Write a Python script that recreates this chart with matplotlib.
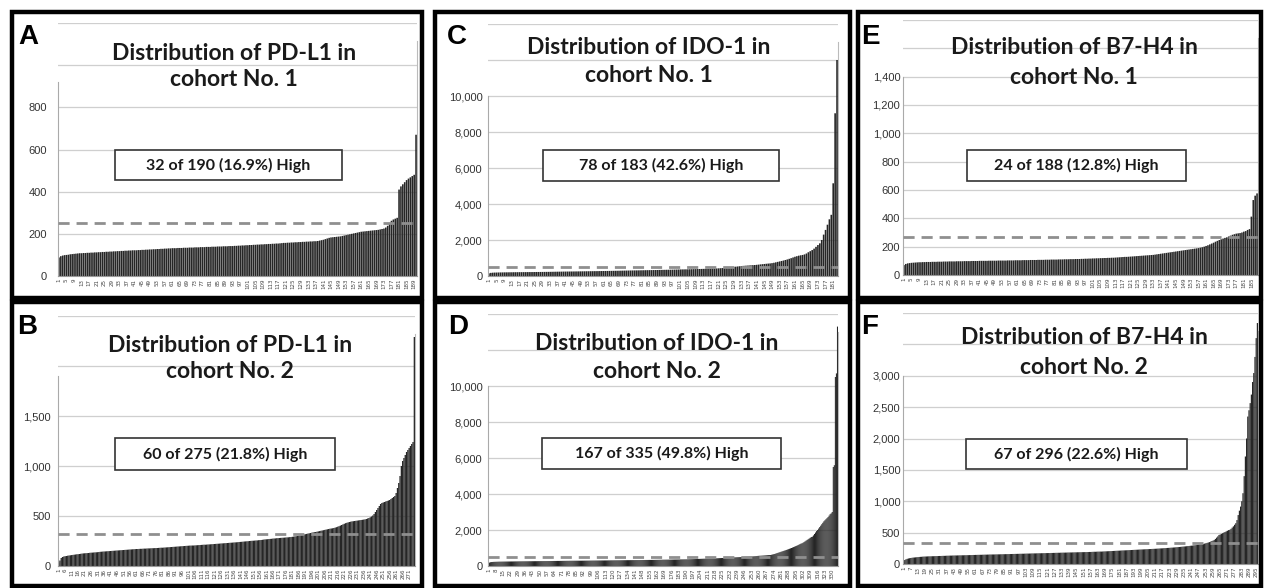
import matplotlib.pyplot as plt
import numpy as np
from matplotlib.patches import Rectangle
from matplotlib.ticker import FuncFormatter

W, H = 1265, 588

# sorted per-patient scores
pdl1_c1 = [88, 94, 97, 99, 100, 101, 103, 104, 105, 106,
           107, 108, 108, 109, 109, 110, 110, 111, 111, 112,
           112, 113, 113, 114, 114, 115, 115, 116, 116, 117,
           117, 118, 118, 119, 119, 120, 120, 121, 121, 122,
           122, 122, 123, 123, 124, 124, 125, 125, 126, 126,
           127, 127, 128, 128, 129, 129, 130, 130, 131, 131,
           132, 132, 132, 133, 133, 133, 134, 134, 134, 135,
           135, 135, 136, 136, 136, 137, 137, 137, 138, 138,
           138, 139, 139, 139, 140, 140, 140, 141, 141, 141,
           142, 142, 142, 143, 143, 144, 144, 145, 145, 146,
           146, 147, 147, 148, 148, 149, 149, 150, 150, 151,
           151, 152, 152, 153, 153, 154, 154, 155, 156, 157,
           157, 158, 158, 159, 159, 160, 160, 161, 161, 162,
           162, 163, 163, 164, 164, 165, 165, 166, 168, 170,
           172, 175, 178, 181, 183, 184, 185, 186, 187, 188,
           190, 192, 194, 196, 198, 200, 202, 204, 206, 208,
           210, 211, 212, 213, 214, 215, 216, 217, 218, 219,
           221, 223, 225, 230, 238, 250, 262, 268, 272, 276,
           410, 425, 435, 445, 455, 462, 468, 474, 480, 670]

pdl1_c2 = [35, 55, 80, 90, 95, 98, 100, 103, 105, 107,
           109, 111, 113, 115, 117, 118, 120, 122, 124, 126,
           127, 128, 129, 130, 132, 133, 134, 135, 136, 137,
           138, 140, 142, 143, 144, 145, 146, 147, 148, 149,
           150, 151, 152, 153, 154, 155, 156, 157, 158, 159,
           160, 161, 162, 163, 164, 165, 166, 167, 168, 169,
           170, 170, 171, 172, 172, 173, 174, 174, 175, 176,
           176, 177, 178, 178, 179, 180, 180, 181, 182, 183,
           183, 184, 185, 186, 187, 188, 189, 190, 191, 192,
           193, 194, 195, 196, 197, 198, 199, 200, 201, 202,
           203, 204, 204, 205, 205, 206, 207, 208, 209, 210,
           211, 212, 213, 213, 214, 215, 216, 217, 218, 219,
           220, 221, 222, 223, 224, 225, 226, 227, 228, 229,
           230, 231, 232, 233, 234, 235, 236, 237, 238, 240,
           241, 242, 243, 245, 246, 247, 248, 250, 251, 252,
           253, 254, 255, 256, 258, 259, 260, 262, 264, 266,
           267, 268, 270, 271, 272, 274, 275, 276, 278, 279,
           280, 281, 282, 283, 284, 285, 286, 287, 289, 290,
           292, 294, 296, 298, 300, 303, 306, 309, 312, 315,
           318, 321, 324, 327, 330, 333, 336, 338, 340, 343,
           346, 349, 352, 355, 358, 361, 364, 367, 370, 373,
           375, 377, 380, 384, 388, 393, 398, 404, 410, 416,
           422, 428, 432, 436, 440, 443, 446, 448, 450, 452,
           454, 456, 458, 460, 462, 464, 466, 470, 475, 480,
           487, 495, 505, 520, 540, 560, 580, 600, 620, 630,
           635, 640, 645, 650, 655, 660, 670, 680, 690, 700,
           730, 780, 830, 900, 1000, 1050, 1080, 1110, 1140, 1160,
           1180, 1200, 1220, 1240, 2290]

ido1_c1 = [150, 175, 185, 190, 193, 196, 198, 200, 202, 204,
           205, 207, 208, 210, 211, 212, 213, 214, 215, 216,
           217, 218, 219, 220, 222, 223, 224, 225, 226, 228,
           229, 230, 232, 234, 236, 238, 240, 241, 243, 245,
           246, 248, 249, 251, 252, 254, 255, 257, 258, 260,
           261, 263, 264, 266, 267, 269, 270, 272, 274, 276,
           277, 279, 281, 283, 285, 287, 289, 291, 293, 296,
           298, 300, 302, 304, 306, 308, 310, 312, 314, 316,
           318, 320, 322, 324, 326, 328, 330, 332, 334, 337,
           339, 341, 343, 346, 348, 350, 353, 356, 359, 362,
           364, 366, 368, 370, 372, 375, 378, 381, 384, 387,
           390, 393, 396, 399, 402, 405, 408, 411, 415, 420,
           425, 432, 440, 450, 460, 470, 480, 492, 505, 518,
           530, 542, 553, 563, 572, 580, 588, 595, 603, 611,
           622, 633, 645, 657, 668, 680, 690, 700, 715, 735,
           760, 785, 810, 835, 860, 890, 920, 955, 990, 1030,
           1070, 1100, 1130, 1150, 1170, 1200, 1250, 1320, 1380, 1440,
           1520, 1620, 1720, 1815, 2000, 2300, 2560, 2850, 3150, 3400,
           5150, 9040, 12000]

ido1_c2 = [150, 190, 210, 220, 225, 230, 232, 234, 236, 238,
           240, 241, 242, 243, 244, 245, 246, 247, 248, 249,
           250, 251, 252, 252, 253, 254, 255, 255, 256, 257,
           258, 258, 259, 260, 260, 261, 262, 262, 263, 264,
           264, 265, 266, 266, 267, 268, 268, 269, 270, 270,
           271, 272, 272, 273, 274, 274, 275, 276, 276, 277,
           278, 278, 279, 280, 280, 281, 282, 282, 283, 284,
           284, 285, 286, 286, 287, 288, 288, 289, 290, 290,
           291, 291, 292, 292, 293, 293, 294, 294, 295, 295,
           296, 296, 297, 297, 298, 298, 299, 300, 300, 301,
           302, 302, 303, 304, 304, 305, 306, 306, 307, 308,
           308, 309, 310, 310, 311, 312, 312, 313, 314, 314,
           315, 316, 316, 317, 318, 318, 319, 320, 320, 321,
           322, 322, 323, 324, 324, 325, 326, 326, 327, 328,
           328, 329, 330, 330, 331, 332, 332, 333, 334, 334,
           335, 336, 336, 337, 338, 338, 339, 340, 340, 341,
           342, 343, 344, 345, 346, 347, 348, 349, 350, 351,
           352, 353, 354, 355, 356, 357, 358, 359, 360, 361,
           362, 363, 364, 365, 366, 367, 368, 369, 370, 371,
           372, 374, 376, 378, 380, 382, 384, 386, 388, 390,
           392, 394, 396, 398, 400, 402, 404, 406, 408, 410,
           412, 414, 416, 418, 420, 422, 424, 426, 428, 430,
           433, 436, 439, 442, 445, 448, 451, 454, 457, 460,
           463, 466, 469, 472, 475, 478, 481, 484, 487, 490,
           493, 496, 499, 502, 505, 508, 511, 514, 517, 520,
           524, 528, 532, 536, 540, 545, 550, 556, 562, 568,
           570, 574, 578, 582, 586, 590, 594, 598, 603, 607,
           611, 625, 640, 655, 670, 690, 710, 730, 750, 770,
           790, 810, 830, 850, 870, 890, 912, 934, 956, 978,
           1000, 1025, 1050, 1075, 1100, 1125, 1150, 1180, 1210, 1240,
           1260, 1290, 1330, 1370, 1410, 1450, 1490, 1530, 1570, 1610,
           1630, 1700, 1780, 1860, 1940, 2000, 2080, 2160, 2240, 2320,
           2400, 2480, 2540, 2600, 2660, 2720, 2800, 2880, 2925, 3000,
           5500, 5600, 10500, 10700, 13300]

b7h4_c1 = [70, 78, 82, 84, 86, 87, 88, 89, 90, 90,
           91, 91, 92, 92, 92, 93, 93, 93, 94, 94,
           94, 95, 95, 95, 96, 96, 96, 96, 97, 97,
           97, 97, 98, 98, 98, 98, 99, 99, 99, 99,
           100, 100, 100, 100, 100, 101, 101, 101, 101, 101,
           102, 102, 102, 102, 102, 103, 103, 103, 103, 104,
           104, 104, 104, 105, 105, 105, 105, 106, 106, 106,
           106, 107, 107, 107, 107, 108, 108, 108, 109, 109,
           109, 109, 110, 110, 110, 111, 111, 111, 112, 112,
           112, 113, 113, 113, 114, 114, 115, 115, 116, 116,
           117, 117, 118, 118, 119, 119, 120, 120, 121, 121,
           122, 122, 123, 124, 125, 126, 127, 128, 128, 129,
           130, 131, 132, 133, 134, 135, 136, 137, 138, 139,
           140, 141, 142, 144, 146, 148, 150, 152, 154, 156,
           158, 160, 162, 164, 166, 168, 170, 172, 174, 176,
           178, 180, 182, 184, 186, 188, 190, 193, 196, 200,
           205, 210, 216, 222, 228, 235, 241, 247, 252, 257,
           262, 266, 272, 278, 284, 288, 292, 294, 296, 300,
           306, 310, 318, 324, 412, 529, 560, 576]

b7h4_c2 = [40, 64, 75, 82, 88, 92, 96, 99, 102, 104,
           106, 108, 110, 112, 114, 115, 117, 118, 119, 120,
           121, 122, 122, 123, 124, 124, 125, 126, 126, 127,
           128, 128, 129, 130, 130, 131, 132, 132, 133, 134,
           134, 135, 135, 136, 136, 137, 137, 138, 138, 139,
           139, 140, 140, 141, 141, 142, 142, 143, 144, 144,
           145, 145, 146, 146, 147, 147, 148, 148, 149, 149,
           150, 150, 151, 151, 152, 152, 152, 153, 153, 154,
           154, 155, 155, 156, 156, 157, 157, 158, 158, 159,
           159, 160, 160, 161, 161, 162, 162, 163, 163, 164,
           164, 165, 165, 166, 166, 167, 167, 168, 168, 169,
           169, 170, 170, 171, 171, 172, 172, 173, 173, 174,
           174, 175, 175, 176, 176, 177, 177, 178, 178, 179,
           179, 180, 180, 181, 181, 182, 182, 183, 183, 184,
           184, 185, 185, 186, 186, 187, 187, 188, 188, 189,
           189, 190, 190, 191, 191, 192, 192, 193, 194, 195,
           195, 196, 197, 197, 198, 198, 199, 200, 201, 202,
           203, 204, 205, 206, 207, 208, 209, 210, 211, 212,
           213, 214, 215, 216, 217, 218, 219, 220, 221, 222,
           223, 224, 225, 226, 227, 228, 229, 230, 231, 232,
           233, 234, 235, 236, 237, 238, 239, 240, 241, 242,
           243, 244, 245, 246, 248, 249, 250, 252, 253, 254,
           256, 257, 258, 260, 261, 263, 264, 266, 268, 270,
           271, 273, 275, 277, 279, 281, 283, 285, 287, 290,
           292, 294, 297, 299, 302, 305, 308, 311, 314, 317,
           320, 325, 330, 336, 342, 349, 356, 364, 372, 383,
           400, 420, 440, 463, 470, 480, 490, 500, 510, 520,
           530, 540, 545, 560, 580, 600, 625, 650, 700, 780,
           850, 915, 1000, 1128, 1400, 1713, 2000, 2350, 2450, 2564,
           2700, 2900, 3043, 3300, 3600, 3840]

series = [pdl1_c1, pdl1_c2, ido1_c1, ido1_c2, b7h4_c1, b7h4_c2]
letters = ['A', 'B', 'C', 'D', 'E', 'F']
title_l1 = ['Distribution of PD-L1 in', 'Distribution of PD-L1 in',
            'Distribution of IDO-1 in', 'Distribution of IDO-1 in',
            'Distribution of B7-H4 in', 'Distribution of B7-H4 in']
title_l2 = ['cohort No. 1', 'cohort No. 2', 'cohort No. 1',
            'cohort No. 2', 'cohort No. 1', 'cohort No. 2']
notes = ['32 of 190 (16.9%) High', '60 of 275 (21.8%) High',
         '78 of 183 (42.6%) High', '167 of 335 (49.8%) High',
         '24 of 188 (12.8%) High', '67 of 296 (22.6%) High']
cutoffs = [250, 320, 520, 520, 270, 330]
y_step = [200, 500, 2000, 2000, 200, 500]
y_top = [1200, 2500, 14000, 14000, 1800, 4000]
y_lab_max = [800, 1500, 10000, 10000, 1400, 3000]
x_step = [4, 5, 4, 7, 4, 6]

# layout in pixels (x from left, y from top)
boxes = [(11.7, 11.7, 422, 298), (11.7, 302, 422, 586),
         (434.7, 11.7, 850, 298), (434.7, 302, 850, 586),
         (858, 11.7, 1261, 298), (858, 302, 1261, 586)]
axes_px = [(58, 417, 276, 23), (58, 415, 566, 316),
           (488, 838, 276, 24), (488, 838, 566, 314),
           (903, 1258, 275, 20), (903, 1258, 564, 313)]
title_px = [(234, 54, 80), (230, 345, 371), (649, 48, 76),
            (657, 343, 372), (1074, 48, 77), (1084, 338, 367)]
letter_px = [(18, 24), (17, 314), (447, 24), (448, 314), (861, 24), (861, 314)]
note_px = [(115, 150, 342, 180), (115, 438, 335, 470), (543, 150, 779, 181),
           (542, 438, 781, 469), (967, 150, 1186, 181), (966, 439, 1187, 469)]
spine_top = [920, 1900, 10000, 10000, 1400, 3000]
y_pad = [8, 5, 4, 4, 2, 2]
bar_w = [0.85, 1.0, 0.85, 1.0, 0.85, 1.0]

title_font = 'Lato'


def fx(x):
    return x / W


def fy(y):
    return 1 - y / H


fig = plt.figure(figsize=(W / 100, H / 100), dpi=100)
fig.patch.set_facecolor('white')

for i, vals in enumerate(series):
    l, r, b, t = axes_px[i]
    ax = fig.add_axes([fx(l), fy(b), (r - l) / W, (b - t) / H])
    n = len(vals)
    x = np.arange(n)
    bars = ax.bar(x, vals, width=bar_w[i], color='#262626', linewidth=0, zorder=2)
    for p in bars:
        p.set_snap(False)
    ax.axhline(cutoffs[i], color='#8f8f8f', lw=2, ls=(0, (4, 2.5)), zorder=3)
    ax.set_xlim(-0.5, n - 0.5)
    ax.set_ylim(0, y_top[i])
    ax.set_yticks(np.arange(0, y_top[i] + 1, y_step[i]))
    ax.yaxis.set_major_formatter(FuncFormatter(
        lambda v, p, m=y_lab_max[i]: f'{v:,.0f}' if v <= m else ''))
    ax.yaxis.grid(True, color='#cfcfcf', lw=0.9)
    ax.set_axisbelow(True)
    ticks = x[::x_step[i]]
    ax.set_xticks(ticks)
    ax.set_xticklabels([str(k + 1) for k in ticks], rotation=90,
                       fontsize=4, color='#444444')
    ax.tick_params(length=0)
    ax.tick_params(axis='x', pad=2)
    ax.tick_params(axis='y', pad=y_pad[i], labelsize=8, labelcolor='#333333')
    for lab in ax.get_yticklabels():
        lab.set_family('Liberation Sans')
    ax.spines['top'].set_visible(False)
    ax.spines['bottom'].set_color('#999999')
    ax.spines['bottom'].set_linewidth(0.8)
    ax.spines['left'].set_color('#aaaaaa')
    ax.spines['left'].set_linewidth(0.8)
    ax.spines['left'].set_bounds(0, spine_top[i])
    ax.spines['right'].set_color('#bbbbbb')
    ax.spines['right'].set_linewidth(0.8)
    ax.spines['right'].set_bounds(0, y_top[i] * 0.93)
    ax.patch.set_alpha(0)

    # thick black panel frame
    x0, y0, x1, y1 = boxes[i]
    fig.add_artist(Rectangle((fx(x0), fy(y1)), (x1 - x0) / W, (y1 - y0) / H,
                             transform=fig.transFigure, fill=False,
                             lw=3.2, ec='black', zorder=5))

    # title, two lines
    tx, ty1, ty2 = title_px[i]
    fig.text(fx(tx), fy(ty1), title_l1[i], ha='center', va='center',
             fontsize=16.5, fontweight='bold', family=title_font, color='#1a1a1a')
    fig.text(fx(tx), fy(ty2), title_l2[i], ha='center', va='center',
             fontsize=16.5, fontweight='bold', family=title_font, color='#1a1a1a')

    # panel letter
    lx, ly = letter_px[i]
    fig.text(fx(lx), fy(ly), letters[i], ha='left', va='top', fontsize=20,
             fontweight='bold', family='Liberation Sans', color='black')

    # "n of N High" box
    nx0, ny0, nx1, ny1 = note_px[i]
    fig.add_artist(Rectangle((fx(nx0), fy(ny1)), (nx1 - nx0) / W, (ny1 - ny0) / H,
                             transform=fig.transFigure, fc='white',
                             ec='#333333', lw=1.2, zorder=4))
    fig.text(fx((nx0 + nx1) / 2), fy((ny0 + ny1) / 2), notes[i], ha='center',
             va='center', fontsize=11.5, fontweight='bold', family=title_font,
             color='#1a1a1a', zorder=6)

fig.savefig('out.png', dpi=100, facecolor='white')
